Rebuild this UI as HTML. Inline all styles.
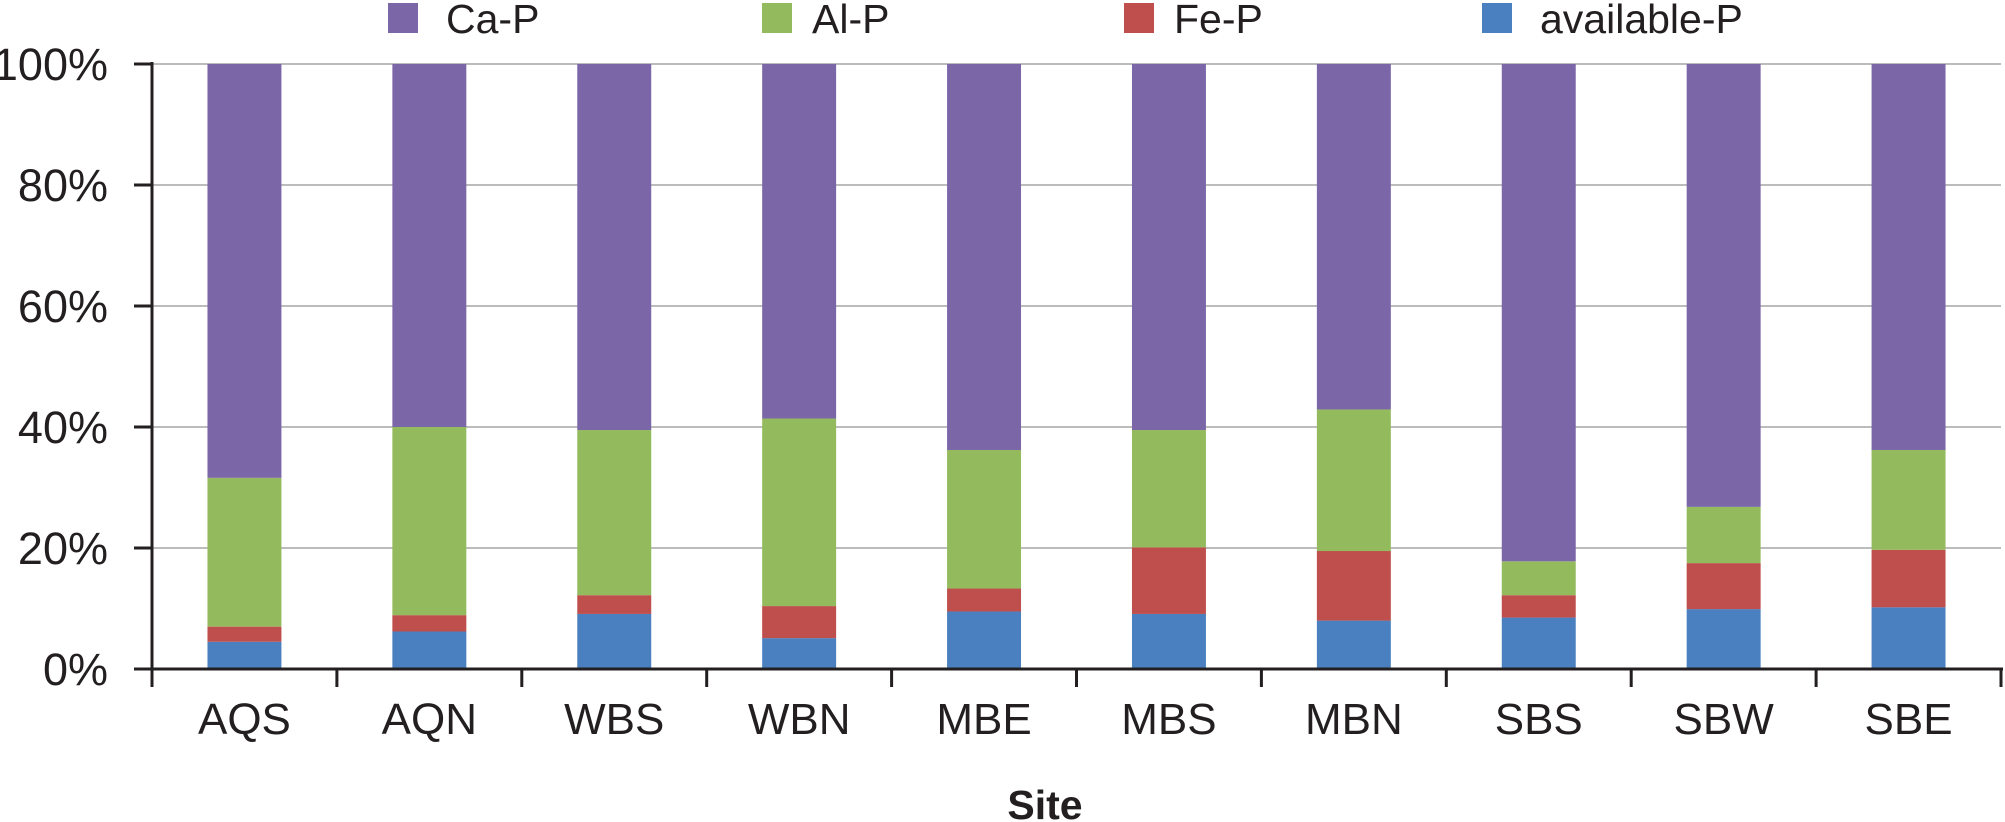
<!DOCTYPE html>
<html><head><meta charset="utf-8"><style>
html,body{margin:0;padding:0;background:#fff;}
svg{display:block;font-family:"Liberation Sans",Arial,sans-serif;}
</style></head><body>
<svg id="chart" width="2005" height="822" viewBox="0 0 2005 822">
<g id="grid"></g>
<g id="bars"></g>
<g id="axes"></g>
<g id="legend"></g>
<text x="1045" y="819" font-size="41" font-weight="bold" text-anchor="middle" fill="#231f20">Site</text>
</svg>
<script>
const categories = ["AQS","AQN","WBS","WBN","MBE","MBS","MBN","SBS","SBW","SBE"];
const availableP = [4.5,6.2,9.1,5.1,9.5,9.1,8.0,8.5,9.9,10.2];
const feP = [2.5,2.7,3.1,5.3,3.8,11.0,11.5,3.7,7.6,9.5];
const alP = [24.6,31.1,27.3,31.0,22.9,19.4,23.4,5.6,9.3,16.5];
const caP = [68.4,60.0,60.5,58.6,63.8,60.5,57.1,82.2,73.2,63.8];
const seriesNames = ["Ca-P","Al-P","Fe-P","available-P"];
const yTicks = [0,20,40,60,80,100];
const yTickLabels = ["0%","20%","40%","60%","80%","100%"];

const NS = "http://www.w3.org/2000/svg";
const X0 = 152, X1 = 2001, Y0 = 669, Y1 = 64;
const colors = {"Ca-P":"#7b66a8","Al-P":"#94ba5e","Fe-P":"#be4f4c","available-P":"#4a80bf"};
const band = (X1 - X0) / categories.length;
function yScale(v){ return Y0 - (v/100)*(Y0-Y1); }
function xCenter(i){ return X0 + band*(i+0.5); }
function mk(tag, attrs, parent){ const e=document.createElementNS(NS,tag); for(const k in attrs) e.setAttribute(k,attrs[k]); parent.appendChild(e); return e; }

const grid=document.getElementById('grid'), bars=document.getElementById('bars'), axes=document.getElementById('axes'), legend=document.getElementById('legend');

yTicks.forEach((t,i)=>{
  if(t>0){
    const g=mk('line',{x1:X0,x2:X1,y1:yScale(t),y2:yScale(t),stroke:'#a6a6a6','stroke-width':1.5},grid);
    
    
  }
  const tk=mk('line',{x1:134,x2:X0,y1:yScale(t),y2:yScale(t),stroke:'#231f20','stroke-width':3},axes);
  
  
  const lb=mk('text',{x:108,y:yScale(t)+16,'font-size':45,'text-anchor':'end',fill:'#231f20'},axes);
  lb.textContent=yTickLabels[i];
  
  
});

const bw = band*0.4;
categories.forEach((c,i)=>{
  const segs=[["available-P",availableP[i]],["Fe-P",feP[i]],["Al-P",alP[i]],["Ca-P",caP[i]]];
  let cum=0;
  segs.forEach(([n,v])=>{
    const top=Math.min(100,cum+v);
    const r=mk('rect',{x:xCenter(i)-bw/2,y:yScale(top),width:bw,height:yScale(cum)-yScale(top),fill:colors[n]},bars);
    
    
    cum=top;
  });
  const lb=mk('text',{x:xCenter(i),y:734,'font-size':44,'text-anchor':'middle',fill:'#231f20'},axes);
  lb.textContent=c;
  
  
});
for(let i=0;i<=categories.length;i++){
  const x=X0+band*i;
  const t=mk('line',{x1:x,x2:x,y1:Y0,y2:687,stroke:'#231f20','stroke-width':3},axes);
  
  
}
const ya=mk('line',{x1:X0,x2:X0,y1:Y1-2,y2:687,stroke:'#231f20','stroke-width':3},axes);


const xa=mk('line',{x1:X0,x2:X1+2,y1:Y0,y2:Y0,stroke:'#231f20','stroke-width':3},axes);



const legX=[388,762,1124,1482];
seriesNames.forEach((n,i)=>{
  const s=mk('rect',{x:legX[i],y:3,width:30,height:30,fill:colors[n]},legend);
  
  
  const t=mk('text',{x:legX[i]+(i==0?58:i==3?58:50),y:33,'font-size':41,fill:'#231f20'},legend);
  t.textContent=n;
  
  
});
</script>
</body></html>
